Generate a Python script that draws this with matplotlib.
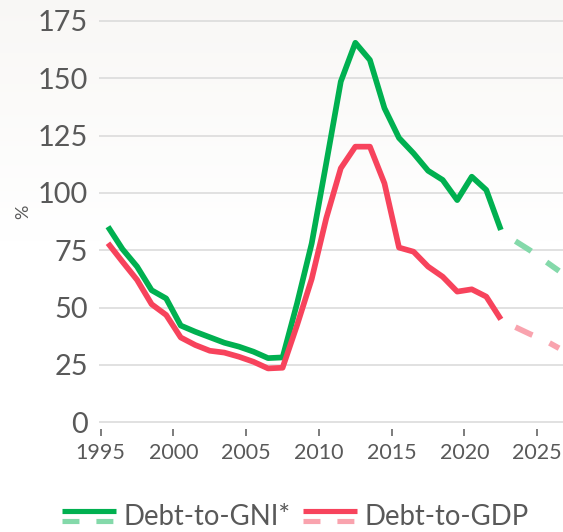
import numpy as np
import matplotlib
matplotlib.use("Agg")
import matplotlib.pyplot as plt
from matplotlib.lines import Line2D
from matplotlib.legend_handler import HandlerBase

# data
years = list(range(1995, 2023))
gni = [85.3, 75.5, 67.9, 57.6, 54.0, 42.2, 39.5, 37.1, 34.7, 33.0, 30.8, 28.0, 28.3,
       52.0, 78.0, 113.0, 148.6, 165.5, 158.0, 137.0, 124.0, 117.3, 109.7, 105.7,
       96.9, 107.1, 101.3, 83.9]
gdp = [78.1, 70.0, 62.1, 51.5, 46.8, 37.0, 33.7, 31.2, 30.4, 28.6, 26.4, 23.5, 23.8,
       42.5, 62.5, 89.0, 110.8, 120.2, 120.2, 104.2, 76.2, 74.4, 67.9, 63.5,
       57.0, 58.0, 54.8, 44.9]
proj_years = [2023, 2024, 2025, 2026]
gni_proj = [79.0, 75.0, 70.5, 66.0]
gdp_proj = [41.5, 38.5, 35.8, 32.3]

yticks = [0, 25, 50, 75, 100, 125, 150, 175]
xticks = [1995, 2000, 2005, 2010, 2015, 2020, 2025]
labels = ["Debt-to-GNI*", "Debt-to-GDP"]

GREEN = "#00B050"
GREEN_L = "#84D9AA"
RED = "#F7435C"
RED_L = "#F9A3AE"
TXT = "#595959"
GRID = "#D9D9D9"

plt.rcParams["font.family"] = ["Lato", "DejaVu Sans"]

W, H = 563, 532
fig = plt.figure(figsize=(W / 100, H / 100), dpi=100)

# faint warm gradient at the top of the background
bg = fig.add_axes([0, 0, 1, 1], zorder=-10)
t = np.clip(np.linspace(0, 1, 200) / 0.45, 0, 1)[:, None]
top = np.array([0.975, 0.970, 0.962])
grad = top * (1 - t[..., None]) + np.ones(3) * t[..., None]
grad = np.repeat(grad, 2, axis=1)
bg.imshow(grad, aspect="auto", extent=[0, 1, 0, 1], origin="upper")
bg.axis("off")

ax = fig.add_axes([99 / W, (H - 423.7) / H, (W - 99) / W, 405 / H])
ax.set_facecolor("none")

off = 0.5  # annual points sit mid-year
lw = 4.1
ax.plot(np.array(years) + off, gni, color=GREEN, lw=lw, solid_capstyle="butt", solid_joinstyle="round")
ax.plot(np.array(years) + off, gdp, color=RED, lw=lw, solid_capstyle="butt", solid_joinstyle="round")
ax.plot(np.array(proj_years) + off, gni_proj, color=GREEN_L, lw=lw, ls=(0, (3.3, 3.3)), dash_capstyle="butt")
ax.plot(np.array(proj_years) + off, gdp_proj, color=RED_L, lw=lw, ls=(0, (3.3, 3.3)), dash_capstyle="butt")

ax.set_xlim(1994.883, 2026.77)
ax.set_ylim(-0.6, 176)
ax.set_yticks(yticks)
ax.set_xticks(xticks)
ax.yaxis.grid(True, color=GRID, lw=1.1)
ax.set_axisbelow(True)
for s in ["top", "right", "left"]:
    ax.spines[s].set_visible(False)
ax.spines["bottom"].set_position(("outward", 4))
ax.spines["bottom"].set_visible(False)
ax.tick_params(axis="y", length=0, pad=8, labelsize=20.8, labelcolor=TXT)
ax.tick_params(axis="x", length=5, width=1.1, color=TXT, pad=5, labelsize=15.5, labelcolor=TXT)

fig.text(23 / W, 1 - 212 / H, "%", rotation=90, ha="center", va="center", fontsize=13, color=TXT)


class TwoLineHandler(HandlerBase):
    def create_artists(self, legend, orig_handle, xdescent, ydescent, width, height, fontsize, trans):
        solid, dashed = orig_handle
        yc = -ydescent + height / 2
        x = [-xdescent, -xdescent + width]
        l1 = Line2D(x, [yc + 3.2] * 2, color=solid.get_color(), lw=3.7, solid_capstyle="butt")
        l2 = Line2D(x, [yc - 4.0] * 2, color=dashed.get_color(), lw=3.7,
                    ls=(0, (3.3, 3.3)), dash_capstyle="butt")
        for l in (l1, l2):
            l.set_transform(trans)
        return [l1, l2]


h_gni = (Line2D([], [], color=GREEN), Line2D([], [], color=GREEN_L))
h_gdp = (Line2D([], [], color=RED), Line2D([], [], color=RED_L))
leg = fig.legend([h_gni, h_gdp], labels, handler_map={tuple: TwoLineHandler()},
                 loc="center", bbox_to_anchor=(0.5245, 0.028), ncol=2, frameon=False,
                 fontsize=19.8, handlelength=1.97, handletextpad=0.26, columnspacing=0.47,
                 borderpad=0, borderaxespad=0)
for txt in leg.get_texts():
    txt.set_color(TXT)

fig.savefig("out.png", dpi=100)
